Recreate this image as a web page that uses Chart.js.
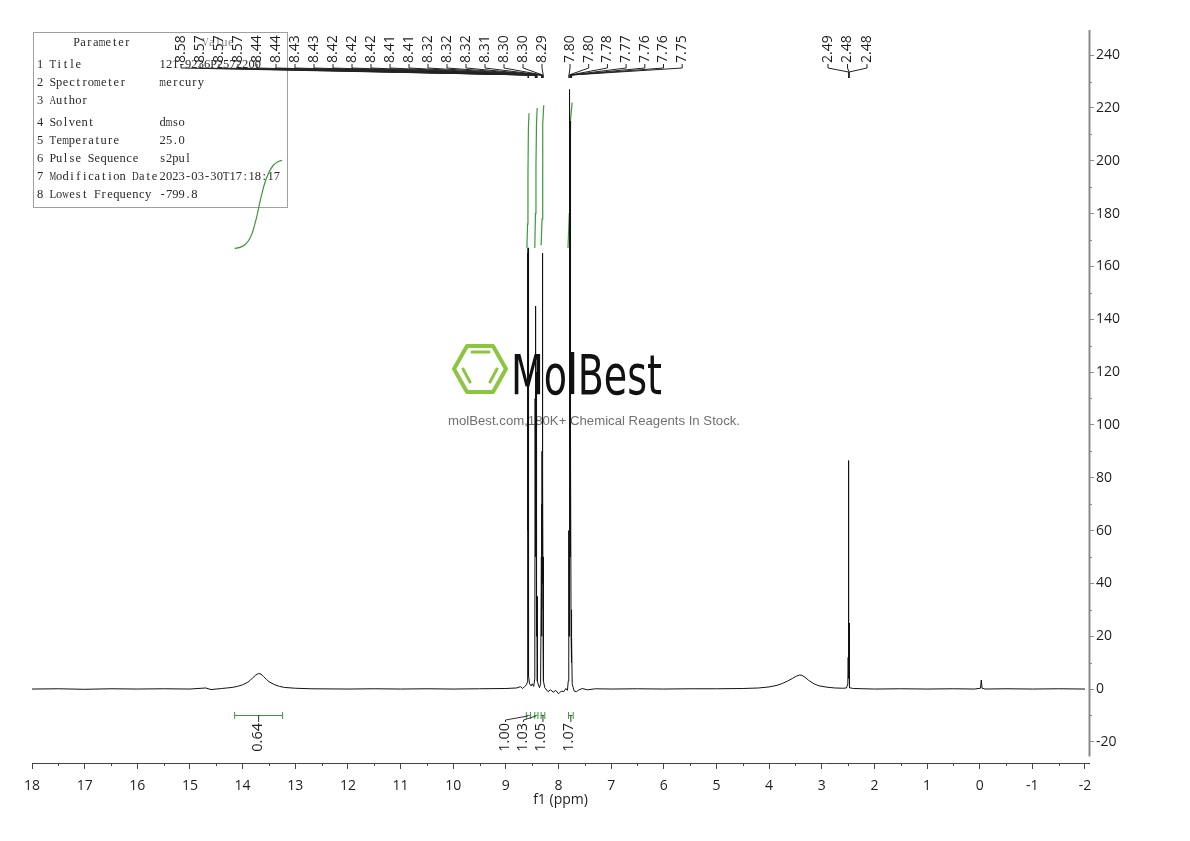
<!DOCTYPE html>
<html>
<head>
<meta charset="utf-8">
<script src="https://cdn.jsdelivr.net/npm/chart.js@4.4.0/dist/chart.umd.min.js"></script>
<style>
html,body{margin:0;padding:0;background:#fff;}
canvas{display:block;}
</style>
</head>
<body>
<canvas id="c" width="1190" height="841"></canvas>
<script>
// ---------- data ----------
const xTickValues = [18,17,16,15,14,13,12,11,10,9,8,7,6,5,4,3,2,1,0,-1,-2];
const yTickValues = [-20,0,20,40,60,80,100,120,140,160,180,200,220,240];

const spectrumPpm = [
 18.00,17.50,17.00,16.50,16.00,15.50,15.00,14.70,14.60,14.40,
 14.30,14.20,14.10,14.00,13.90,13.85,13.80,13.75,13.70,13.65,13.60,13.55,13.50,13.40,13.30,13.20,13.00,12.70,
 12.00,11.50,11.00,10.50,10.00,9.50,9.00,8.80,8.72,8.68,8.64,8.61,8.595,
 8.590,8.585,8.582,8.579,8.576,8.572,8.569,8.566,8.562,8.550,8.520,8.500,8.470,8.450,
 8.444,8.441,8.438,8.435,8.432,8.429,8.426,8.423,8.420,8.417,8.414,8.411,8.408,8.402,8.380,8.360,8.340,
 8.325,8.322,8.319,8.316,8.313,8.310,8.307,8.304,8.301,8.298,8.295,8.292,8.289,8.283,8.260,8.200,8.150,8.100,8.050,8.000,7.950,7.900,7.860,7.830,7.815,
 7.805,7.800,7.796,7.790,7.785,7.781,7.777,7.772,7.766,7.761,7.757,7.752,7.748,7.740,7.720,7.700,7.660,7.620,7.550,7.450,7.300,
 7.00,6.50,6.00,5.50,5.00,4.50,4.20,4.00,3.85,3.75,3.65,3.55,3.48,3.42,3.38,3.32,3.25,3.15,3.05,2.90,2.75,2.60,2.53,
 2.505,2.498,2.494,2.490,2.486,2.482,2.477,2.470,2.40,2.20,2.00,1.50,1.00,0.50,0.10,
 -0.015,-0.030,-0.045,-0.10,-0.50,-1.00,-1.50,-2.00
];
const spectrumIntensity = [
 0.0,0.1,-0.1,0.1,0.0,0.1,0.0,0.4,-0.2,0.2,
 0.4,0.6,1.0,1.6,2.6,3.4,4.4,5.3,5.9,5.6,4.7,3.7,2.8,1.7,1.0,0.6,0.3,0.1,
 0.0,0.1,0.0,0.1,0.0,0.1,0.2,0.4,0.9,0.2,1.0,1.6,2.5,
 8,165,60,167,40,120,30,100,5,2,1.2,2.0,1.0,4,
 110,50,133,60,145,60,120,50,90,40,60,20,35,3,1.5,0.5,2,
 50,20,70,30,90,40,165,60,140,40,80,20,50,3,0.5,-1.0,-0.3,-1.2,-0.5,-1.8,-0.8,-1.0,0.2,-0.5,3,
 60,20,75,40,227,80,215,50,90,20,30,10,20,2,0.5,-0.8,-1.0,-0.4,0.2,-0.3,0.1,
 0.0,0.1,0.0,0.1,0.1,0.2,0.4,0.8,1.4,2.1,3.0,4.1,4.9,5.3,5.2,4.5,3.3,2.0,1.2,0.7,0.4,0.3,0.4,
 2.0,12,4,86.5,5,25,2,0.5,0.2,0.1,0.0,0.1,0.0,0.1,0.0,
 0.3,3.4,0.3,0.0,0.1,0.0,0.1,0.0
];

// integral curves (ppm / curve level)
const integral1Ppm = [14.15,14.05,13.95,13.88,13.82,13.77,13.72,13.68,13.63,13.58,13.50,13.42,13.33,13.25];
const integral1Val = [166.8,167.2,168.3,170.0,172.5,175.8,179.8,183.6,187.8,191.5,195.6,198.2,199.6,200.2];
const integral2Ppm = [8.600,8.588,8.580,8.572,8.560];
const integral2Val = [167,176,195,212,218];
const integral3Ppm = [8.450,8.438,8.428,8.418,8.405];
const integral3Val = [167,180,198,214,220];
const integral4Ppm = [8.330,8.312,8.304,8.295,8.280];
const integral4Val = [168,178,198,214,221];
const integral5Ppm = [7.820,7.795,7.782,7.770,7.740];
const integral5Val = [167,180,200,216,222];

// integration regions & values
const integralFrom = [14.16, 8.62, 8.46, 8.34, 7.82];
const integralTo   = [13.25, 8.54, 8.40, 8.27, 7.73];
const integralValues = ['0.64','1.00','1.03','1.05','1.07'];

// peak pick labels
const peakLabelsA = ['8.58','8.57','8.57','8.57','8.44','8.44','8.43','8.43','8.42','8.42','8.42','8.41','8.41','8.32','8.32','8.32','8.31','8.30','8.30','8.29'];
const peakLabelsB = ['7.80','7.80','7.78','7.77','7.76','7.76','7.75'];
const peakLabelsC = ['2.49','2.48','2.48'];

// parameter table
const paramNames  = ['1 Title','2 Spectrometer','3 Author','4 Solvent','5 Temperature','6 Pulse Sequence','7 Modification Date','8 Lowest Frequency'];
const paramValues = ['121-9236P2572200','mercury','','dmso','25.0','s2pul','2023-03-30T17:18:17','-799.8'];

// ---------- helpers ----------
function pts(xs, ys){ return xs.map((x,i)=>({x:x, y:ys[i]})); }

const GREEN = '#3c9a3c';
const TEXT = '#1e1e1e';

// draw text in fixed-width cells (half-width CJK-font style)
function cellText(ctx, s, x, y, cw){
  for (let i = 0; i < s.length; i++) {
    ctx.fillText(s[i], x + i * cw + cw / 2, y, cw + 0.3);
  }
}

const decorPlugin = {
  id: 'decor',
  beforeDatasetsDraw(chart){
    const ctx = chart.ctx;
    // parameter table
    ctx.save();
    ctx.strokeStyle = '#a0a0a0'; ctx.lineWidth = 1;
    ctx.strokeRect(33.5, 32.5, 254, 175);
    ctx.fillStyle = '#2a2a2a';
    ctx.font = '12.5px "Liberation Serif"';
    ctx.textBaseline = 'middle';
    ctx.textAlign = 'center';
    const cw = 6.35;
    cellText(ctx, 'Parameter', 102 - 4.5 * cw, 43, cw);
    ctx.fillStyle = '#888';
    cellText(ctx, 'Value', 218 - 2.5 * cw, 43, cw);
    ctx.fillStyle = '#2a2a2a';
    const rowY = [65,83,101,123,141,159,177,195];
    paramNames.forEach((n,i)=>{
      cellText(ctx, n, 37, rowY[i], cw);
      cellText(ctx, paramValues[i], 159.5, rowY[i], cw);
    });
    ctx.restore();

    // watermark
    ctx.save();
    const cx = 480, cy = 369, rx = 26, ry = 23;
    ctx.strokeStyle = '#8cc63f'; ctx.lineWidth = 4; ctx.lineJoin = 'round';
    ctx.beginPath();
    ctx.moveTo(cx - rx, cy);
    ctx.lineTo(cx - rx/2, cy - ry);
    ctx.lineTo(cx + rx/2, cy - ry);
    ctx.lineTo(cx + rx, cy);
    ctx.lineTo(cx + rx/2, cy + ry);
    ctx.lineTo(cx - rx/2, cy + ry);
    ctx.closePath();
    ctx.stroke();
    ctx.lineWidth = 3; ctx.lineCap = 'round';
    ctx.beginPath();
    ctx.moveTo(472, 352); ctx.lineTo(489, 352);
    ctx.moveTo(463, 369); ctx.lineTo(470, 382);
    ctx.moveTo(497, 369); ctx.lineTo(490, 382);
    ctx.stroke();
    ctx.fillStyle = '#111';
    ctx.font = '56px "DejaVu Sans"';
    ctx.textBaseline = 'alphabetic'; ctx.textAlign = 'left';
    let w = ctx.measureText('MolBest').width;
    ctx.save();
    ctx.translate(511, 394);
    ctx.scale(151 / w, 1);
    ctx.fillText('MolBest', 0, 0);
    ctx.restore();
    ctx.fillStyle = '#707070';
    ctx.font = '13px "Liberation Sans"';
    ctx.textBaseline = 'middle';
    const sub = 'molBest.com,180K+ Chemical Reagents In Stock.';
    w = ctx.measureText(sub).width;
    ctx.save();
    ctx.translate(448, 421);
    ctx.scale(292 / w, 1);
    ctx.fillText(sub, 0, 0);
    ctx.restore();
    ctx.restore();
  },
  afterDatasetsDraw(chart){
    const ctx = chart.ctx;
    const xs = chart.scales.x, ys = chart.scales.y;
    const area = chart.chartArea;

    // integration brackets and labels
    ctx.save();
    const yb = 715;
    const labelX = [258, 505, 523, 541, 569];
    ctx.font = '14.5px "Open Sans"';
    integralValues.forEach((v,i)=>{
      const x1 = xs.getPixelForValue(integralFrom[i]);
      const x2 = xs.getPixelForValue(integralTo[i]);
      const c = (x1 + x2) / 2;
      ctx.strokeStyle = GREEN; ctx.lineWidth = 1;
      ctx.beginPath();
      ctx.moveTo(x1, yb + 0.5); ctx.lineTo(x2, yb + 0.5);
      ctx.moveTo(x1 + 0.5, yb - 3); ctx.lineTo(x1 + 0.5, yb + 4);
      ctx.moveTo(x2 + 0.5, yb - 3); ctx.lineTo(x2 + 0.5, yb + 4);
      ctx.stroke();
      const lx = labelX[i];
      ctx.strokeStyle = '#333';
      ctx.beginPath();
      if (Math.abs(lx - c) < 2) {
        ctx.moveTo(c + 0.5, yb); ctx.lineTo(c + 0.5, yb + 7);
      } else {
        ctx.moveTo(c, yb + 1); ctx.lineTo(lx + 0.5, yb + 5); ctx.lineTo(lx + 0.5, yb + 7);
      }
      ctx.stroke();
      ctx.fillStyle = TEXT;
      ctx.save();
      ctx.translate(lx, yb + 8);
      ctx.rotate(-Math.PI / 2);
      ctx.textAlign = 'right'; ctx.textBaseline = 'middle';
      ctx.fillText(v, 0, 0);
      ctx.restore();
    });
    ctx.restore();

    // peak labels
    function group(labels, startX, step, knee2){
      ctx.save();
      ctx.font = '14px "Open Sans"';
      ctx.fillStyle = TEXT; ctx.strokeStyle = '#222'; ctx.lineWidth = 1;
      labels.forEach((lab,i)=>{
        const lx = startX + i * step;
        const px = xs.getPixelForValue(parseFloat(lab));
        ctx.save();
        ctx.translate(lx, 63);
        ctx.rotate(-Math.PI / 2);
        ctx.textAlign = 'left'; ctx.textBaseline = 'middle';
        ctx.fillText(lab, 0, 0);
        ctx.restore();
        ctx.beginPath();
        ctx.moveTo(lx, 64); ctx.lineTo(lx, 68); ctx.lineTo(px, knee2); ctx.lineTo(px, 78);
        ctx.stroke();
      });
      ctx.restore();
    }
    group(peakLabelsA, 181, 19, 75);
    group(peakLabelsB, 570, 18.7, 75);
    group(peakLabelsC, 828, 19.5, 72);

    // minor ticks
    ctx.save();
    ctx.strokeStyle = '#444'; ctx.lineWidth = 1;
    ctx.beginPath();
    for (let v = 17.5; v > -2; v -= 1) {
      const p = Math.round(xs.getPixelForValue(v)) + 0.5;
      ctx.moveTo(p, area.bottom); ctx.lineTo(p, area.bottom + 3);
    }
    ctx.stroke();
    ctx.strokeStyle = '#888';
    ctx.beginPath();
    for (let v = -10; v < 245; v += 20) {
      const p = Math.round(ys.getPixelForValue(v)) + 0.5;
      ctx.moveTo(area.right, p); ctx.lineTo(area.right + 3, p);
    }
    ctx.stroke();
    // y axis line
    ctx.strokeStyle = '#8a8a8a'; ctx.lineWidth = 2;
    ctx.beginPath();
    ctx.moveTo(area.right + 0.5, area.top);
    ctx.lineTo(area.right + 0.5, ys.getPixelForValue(-25.5));
    ctx.stroke();
    ctx.restore();
  }
};

const integralStyle = {borderColor: GREEN, borderWidth: 1.2, pointRadius: 0, tension: 0, fill: false};

new Chart(document.getElementById('c'), {
  type: 'line',
  data: {
    datasets: [
      {label:'spectrum', data: pts(spectrumPpm, spectrumIntensity), borderColor:'#111', borderWidth:1, pointRadius:0, tension:0, fill:false},
      Object.assign({label:'int1', data: pts(integral1Ppm, integral1Val)}, integralStyle, {tension:0.3}),
      Object.assign({label:'int2', data: pts(integral2Ppm, integral2Val)}, integralStyle),
      Object.assign({label:'int3', data: pts(integral3Ppm, integral3Val)}, integralStyle),
      Object.assign({label:'int4', data: pts(integral4Ppm, integral4Val)}, integralStyle),
      Object.assign({label:'int5', data: pts(integral5Ppm, integral5Val)}, integralStyle)
    ]
  },
  options: {
    responsive: false,
    animation: false,
    devicePixelRatio: 1,
    events: [],
    layout: {padding: {left: 32, top: 30, right: 0, bottom: 0}, autoPadding: false},
    plugins: {legend: {display: false}, tooltip: {enabled: false}},
    scales: {
      x: {
        type: 'linear',
        position: 'bottom',
        reverse: true,
        min: -2.076,
        max: 18,
        afterBuildTicks: (s) => { s.ticks = xTickValues.map(v => ({value: v})); },
        afterFit: (s) => { s.height = 78; },
        ticks: {
          color: TEXT,
          font: {family: '"Open Sans"', size: 14},
          padding: 9,
          maxRotation: 0,
          autoSkip: false,
          callback: (v) => String(v)
        },
        grid: {drawOnChartArea: false, drawTicks: true, tickLength: 6, tickColor: '#444', tickWidth: 1},
        border: {display: true, color: '#444', width: 1},
        title: {display: true, text: 'f1 (ppm)', color: TEXT, font: {family: '"Open Sans"', size: 14}, padding: {top: 4, bottom: 33}}
      },
      y: {
        type: 'linear',
        position: 'right',
        min: -28,
        max: 249.5,
        afterBuildTicks: (s) => { s.ticks = yTickValues.map(v => ({value: v})); },
        afterFit: (s) => { s.width = 101; },
        ticks: {
          color: TEXT,
          font: {family: '"Open Sans"', size: 14},
          padding: 2,
          autoSkip: false,
          callback: (v) => String(v)
        },
        grid: {drawOnChartArea: false, drawTicks: true, tickLength: 5, tickColor: '#888', tickWidth: 1},
        border: {display: false}
      }
    }
  },
  plugins: [decorPlugin]
});
</script>
</body>
</html>
